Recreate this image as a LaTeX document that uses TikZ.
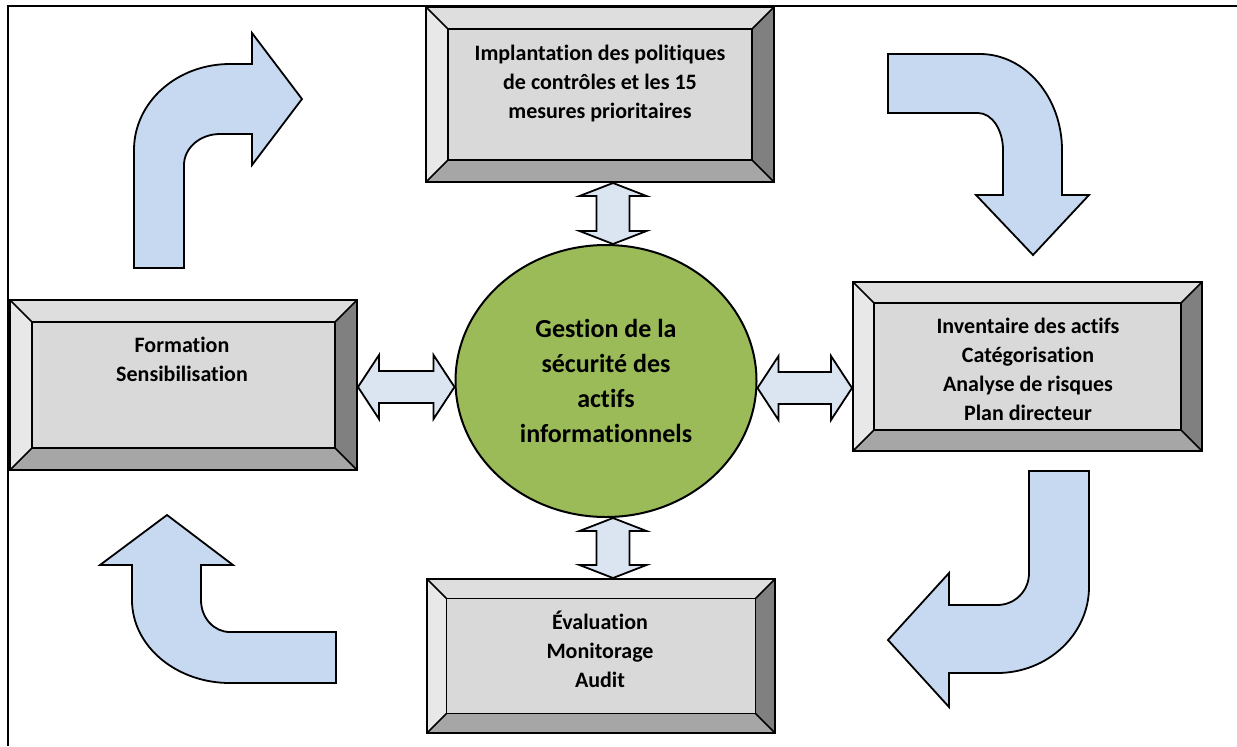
\documentclass[tikz,border=0pt]{standalone}
\usepackage{fontspec}
\setmainfont{Carlito}[Ligatures={NoCommon,NoContextual}]
\usetikzlibrary{shapes.geometric,calc,fit}
\definecolor{bevT}{HTML}{DEDEDE}
\definecolor{bevL}{HTML}{E8E8E8}
\definecolor{bevR}{HTML}{808080}
\definecolor{bevB}{HTML}{A6A6A6}
\definecolor{bevI}{HTML}{D9D9D9}
\definecolor{ellgreen}{HTML}{9BBB59}
\definecolor{curvblue}{HTML}{C6D9F1}
\definecolor{dblblue}{HTML}{DBE5F1}
\tikzset{
  bevline/.style={draw=black, line width=0.8pt},
  boxtext/.style={inner sep=0pt, align=center, font=\bfseries\fontsize{11}{14.5}\selectfont},
  dblarrow/.style={draw=black, line width=0.9pt, fill=dblblue, line join=miter},
  curvarrow/.style={draw=black, line width=0.9pt, fill=curvblue, line join=miter},
}
% #1 name, #2 x1, #3 y1, #4 x2, #5 y2, #6 bevel
\newcommand\bevbox[6]{%
  \fill[bevT] (#2,#3) -- (#4,#3) -- (#4-#6,#3+#6) -- (#2+#6,#3+#6) -- cycle;
  \fill[bevL] (#2,#3) -- (#2+#6,#3+#6) -- (#2+#6,#5-#6) -- (#2,#5) -- cycle;
  \fill[bevR] (#4,#3) -- (#4,#5) -- (#4-#6,#5-#6) -- (#4-#6,#3+#6) -- cycle;
  \fill[bevB] (#2,#5) -- (#2+#6,#5-#6) -- (#4-#6,#5-#6) -- (#4,#5) -- cycle;
  \fill[bevI] (#2+#6,#3+#6) rectangle (#4-#6,#5-#6);
  \draw[bevline] (#2,#3) -- (#2+#6,#3+#6) (#4,#3) -- (#4-#6,#3+#6)
                 (#2,#5) -- (#2+#6,#5-#6) (#4,#5) -- (#4-#6,#5-#6);
  \draw[bevline] (#2+#6,#3+#6) rectangle (#4-#6,#5-#6);
  \coordinate (#1-nw) at (#2,#3);
  \coordinate (#1-se) at (#4,#5);
  \node[fit=(#1-nw)(#1-se), inner sep=0pt, draw, line width=1pt] (#1) {};
}
% vertical double arrow: x from #1, from y of #1 down to y of #2
\newcommand\vdarrow[2]{%
  \draw[dblarrow] let \p1=(#1), \p2=(#2) in
    (\x1,\y1) -- (\x1+16.75pt,\y1-6.5pt) -- (\x1+8.25pt,\y1-6.5pt) -- (\x1+8.25pt,\y2+6.5pt)
    -- (\x1+16.75pt,\y2+6.5pt) -- (\x1,\y2) -- (\x1-16.75pt,\y2+6.5pt) -- (\x1-8.25pt,\y2+6.5pt)
    -- (\x1-8.25pt,\y1-6.5pt) -- (\x1-16.75pt,\y1-6.5pt) -- cycle;
}
% horizontal double arrow: y from #1, from x of #1 right to x of #2
\newcommand\hdarrow[2]{%
  \draw[dblarrow] let \p1=(#1), \p2=(#2) in
    (\x1,\y1) -- (\x1+10.5pt,\y1+16pt) -- (\x1+10.5pt,\y1+8pt) -- (\x2-10.5pt,\y1+8pt)
    -- (\x2-10.5pt,\y1+16pt) -- (\x2,\y1) -- (\x2-10.5pt,\y1-16pt) -- (\x2-10.5pt,\y1-8pt)
    -- (\x1+10.5pt,\y1-8pt) -- (\x1+10.5pt,\y1-16pt) -- cycle;
}
\begin{document}
\begin{tikzpicture}[x=0.5pt, y=-0.5pt]
\useasboundingbox (0,0) rectangle (1237,746);
% frame
\draw[line width=1pt] (8,746) -- (8,6) -- (1237,6);

% boxes
\bevbox{top}{426}{7}{774}{182}{22}
\bevbox{left}{10}{300}{357}{470}{22}
\bevbox{right}{853}{282}{1202}{451}{21}
\bevbox{bot}{427}{579}{775}{733}{19.5}

\node[boxtext, anchor=north] (top-t) at (600,45) {Implantation des politiques\\de contrôles et les 15\\mesures prioritaires};
\node[boxtext, anchor=north] (left-t) at (182,337) {Formation\\Sensibilisation};
\node[boxtext, anchor=north] (right-t) at (1028,318) {Inventaire des actifs\\Catégorisation\\Analyse de risques\\Plan directeur};
\node[boxtext, anchor=north] (bot-t) at (600,611) {Évaluation\\Monitorage\\Audit};

% centre
\node[ellipse, draw, line width=1pt, fill=ellgreen, minimum width=150.5pt, minimum height=136pt,
      inner sep=0pt, align=center, font=\bfseries\fontsize{13}{17.5}\selectfont] (ell) at (606,381)
  {Gestion de la\\sécurité des\\actifs\\informationnels};

% double arrows
\vdarrow{$(top.south)+(13,0)$}{ell.north}
\vdarrow{$(ell.south)+(7,0)$}{bot.north}
\hdarrow{$(left.east)+(0,2)$}{ell.west}
\hdarrow{$(ell.east)+(0,7)$}{right.west}

% curved block arrows
\draw[curvarrow] (134,268) -- (134,150) .. controls (134,102) and (177,64) .. (230,64)
  -- (252,64) -- (252,33) -- (302,99) -- (252,165) -- (252,134) -- (220,134)
  .. controls (200,134) and (184,148) .. (184,165) -- (184,268) -- cycle;
\draw[curvarrow] (888,54) -- (980,54) .. controls (1025,54) and (1062,97) .. (1062,150)
  -- (1062,195) -- (1089,195) -- (1033,255) -- (976,195) -- (1003,195) -- (1003,150)
  .. controls (1003,130) and (992,113) .. (978,113) -- (888,113) -- cycle;
\draw[curvarrow] (1029,471) -- (1089,471) -- (1089,587) .. controls (1089,634) and (1048,673) .. (997,673)
  -- (949,673) -- (949,707) -- (888,640) -- (949,573) -- (949,605) -- (997,605)
  .. controls (1015,605) and (1029,591) .. (1029,573) -- cycle;
\draw[curvarrow] (336,632) -- (336,683) -- (230,683) .. controls (176,683) and (132,646) .. (132,600)
  -- (132,565) -- (100,565) -- (167,515) -- (233,565) -- (201,565) -- (201,600)
  .. controls (201,618) and (214,632) .. (230,632) -- cycle;
\end{tikzpicture}
\end{document}
